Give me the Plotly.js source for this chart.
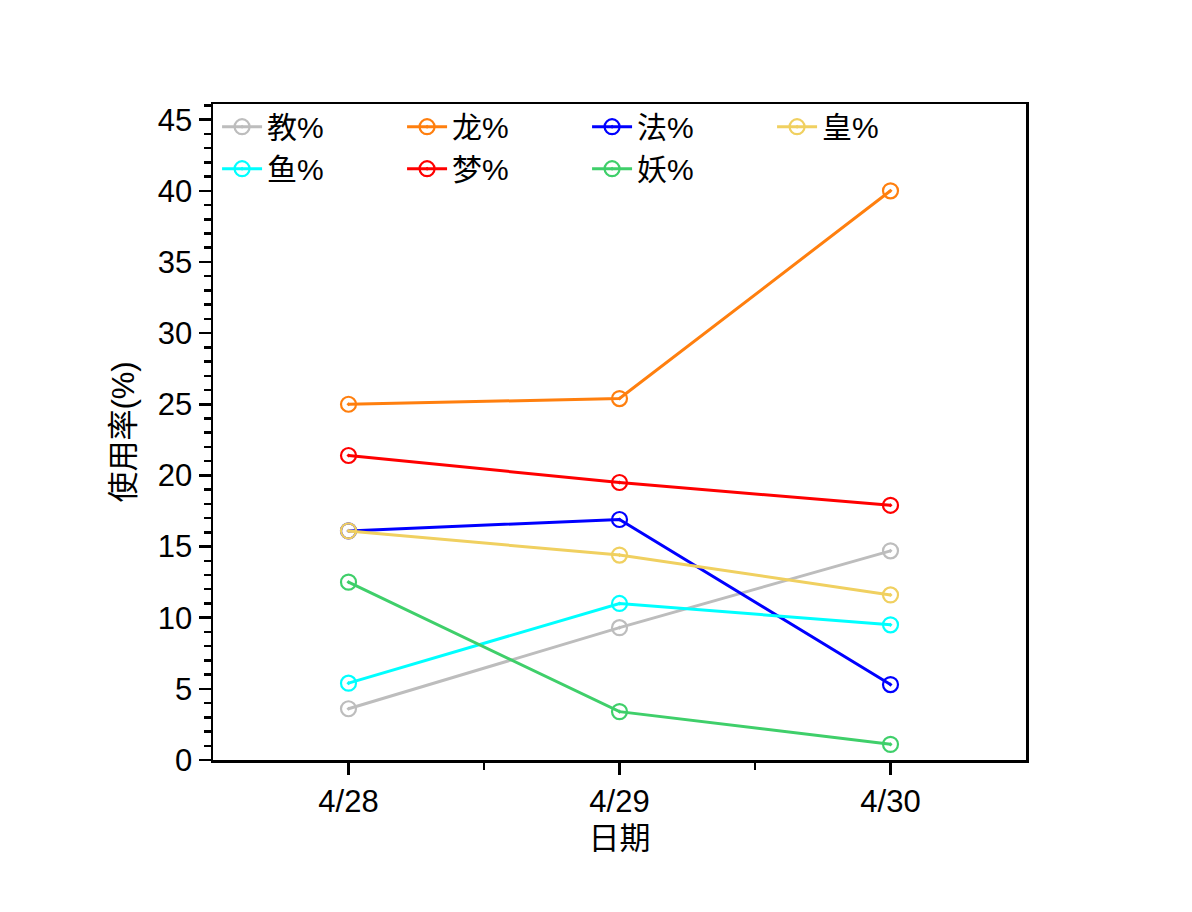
<!DOCTYPE html>
<html>
<head>
<meta charset="utf-8">
<script src="https://cdn.plot.ly/plotly-3.0.1.min.js"></script>
<style>body{margin:0;background:#fff}#chart{width:1192px;height:912px}</style>
</head>
<body>
<div id="chart"></div>
<script>
const dates = ["4/28", "4/29", "4/30"];

const names = ["教%", "龙%", "法%", "皇%", "鱼%", "梦%", "妖%"];
const colors = ["#bdbdbd", "#ff7f0e", "#0000ff", "#f0d060", "#00ffff", "#ff0000", "#3fcf6a"];

const jiao = [3.6, 9.3, 14.7];
const long = [25.0, 25.4, 40.0];
const fa   = [16.1, 16.9, 5.3];
const huang= [16.1, 14.4, 11.6];
const yu   = [5.4, 11.0, 9.5];
const meng = [21.4, 19.5, 17.9];
const yao  = [12.5, 3.4, 1.1];

const series = [jiao, long, fa, huang, yu, meng, yao];

const font = "Liberation Sans, Arial, Noto Sans CJK SC";

const traces = series.map((ys, i) => ({
  x: [0, 1, 2], y: ys, name: names[i],
  type: "scatter", mode: "lines+markers",
  line: { color: colors[i], width: 3 },
  marker: { symbol: "circle-open-dot", size: 15, color: colors[i], line: { width: 2.2 } }
}));

const layout = {
  width: 1192, height: 912,
  margin: { l: 213, r: 166, t: 104, b: 152 },
  paper_bgcolor: "#fff", plot_bgcolor: "#fff",
  font: { family: font, size: 31, color: "#000" },
  showlegend: true,
  legend: {
    orientation: "h", x: 0.005, y: 1.005, xanchor: "left", yanchor: "top",
    bgcolor: "rgba(0,0,0,0)", entrywidth: 130, entrywidthmode: "pixels",
    font: { size: 30, family: font }, itemwidth: 40, tracegroupgap: 0
  },
  xaxis: {
    range: [-0.5, 2.5], tickvals: [0, 1, 2], ticktext: dates,
    showgrid: false, zeroline: false,
    showline: true, mirror: true, linecolor: "#000", linewidth: 2.5,
    ticks: "outside", ticklen: 12, tickwidth: 2.5, tickcolor: "#000",
    minor: { tickvals: [0.5, 1.5], ticks: "outside", ticklen: 7, tickwidth: 2.5, tickcolor: "#000" },
    tickfont: { size: 31 },
    title: { text: "日期", font: { size: 31 }, standoff: 10 }
  },
  yaxis: {
    range: [0, 46.1], tickvals: [0, 5, 10, 15, 20, 25, 30, 35, 40, 45],
    showgrid: false, zeroline: false,
    showline: true, mirror: true, linecolor: "#000", linewidth: 2.5,
    ticks: "outside", ticklen: 12, tickwidth: 2.5, tickcolor: "#000",
    minor: { dtick: 1, ticks: "outside", ticklen: 7, tickwidth: 2.5, tickcolor: "#000" },
    tickfont: { size: 31 },
    title: { text: "使用率(%)", font: { size: 31 }, standoff: 14 }
  }
};

Plotly.newPlot("chart", traces, layout, { displayModeBar: false, staticPlot: true });
</script>
</body>
</html>
